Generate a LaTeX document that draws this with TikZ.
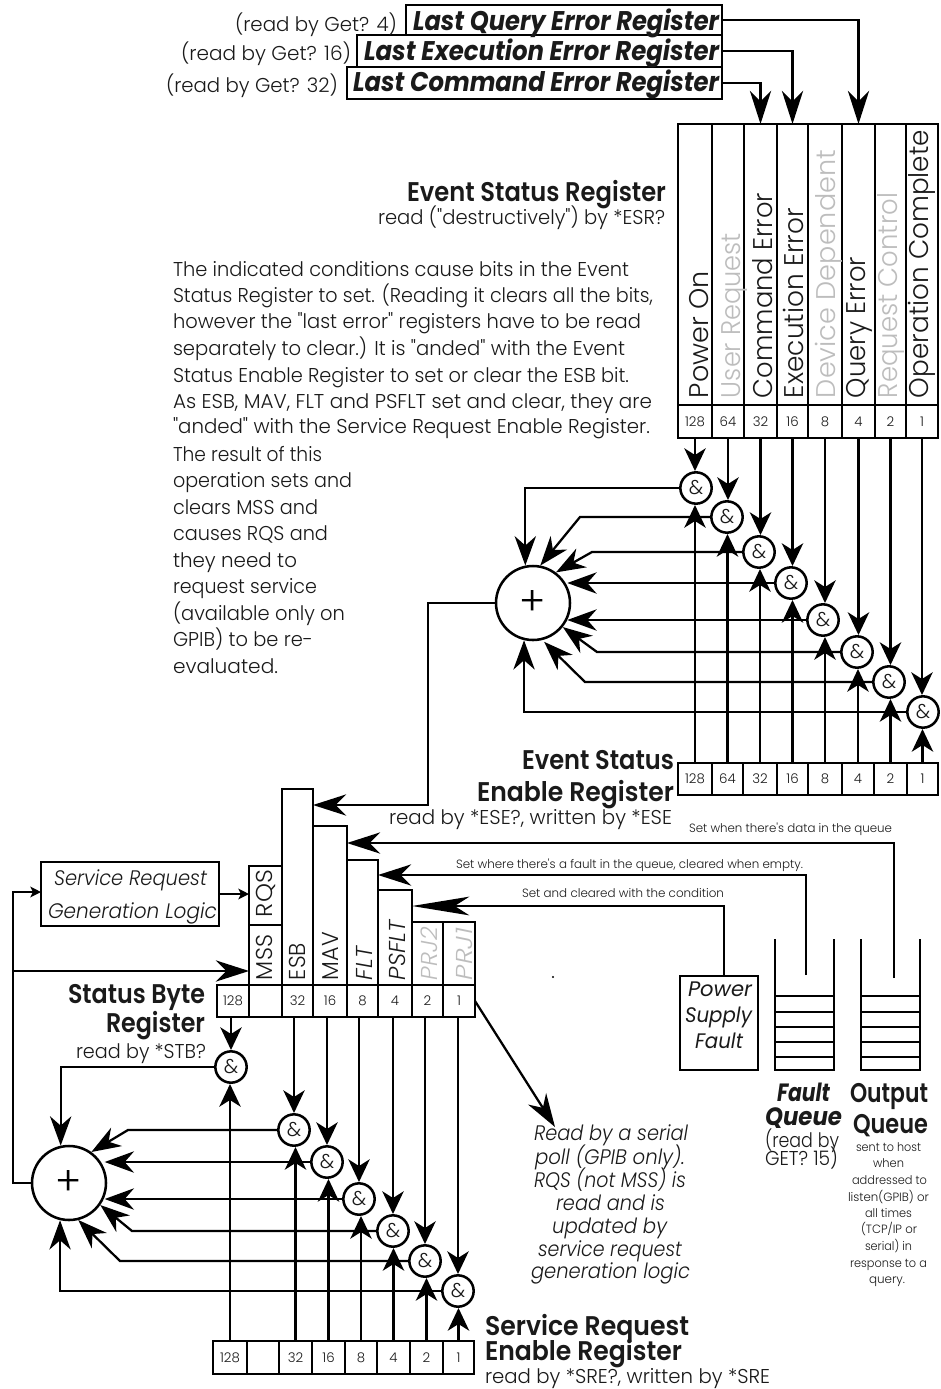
\documentclass[tikz,border=0pt]{standalone}
\usepackage{fontspec}
\usepackage{graphicx}
\setmainfont{Poppins}[Ligatures=TeXOff,UprightFont=*-Light,ItalicFont=*-LightItalic,BoldFont=*-SemiBold,BoldItalicFont=*-BoldItalic]
\newfontface\regit{Poppins-Italic}
\usetikzlibrary{arrows.meta,calc}
\definecolor{ink}{HTML}{1A1A1A}
\definecolor{dim}{HTML}{BDBDBD}
\newcounter{txc}
\newcommand\regcell[6]{\pgfmathsetmacro\cw{(#3-#2)*0.75}\pgfmathsetmacro\ch{(#5-#4)*0.75}%
  \node[cellbox,minimum width=\cw pt,minimum height=\ch pt] (#1) at ({(#2+#3)/2},{(#4+#5)/2}) {#6};}
% x, baseline, width, size(px), font switches+colour, text
\newcommand\tx[6]{\stepcounter{txc}\node[txtbox] (t\thetxc) at (#1,#2)
  {\fontsize{\dimexpr #4pt*3/4\relax}{\dimexpr #4pt*3/4\relax}\selectfont #5\resizebox{\dimexpr #3pt*3/4\relax}{\height}{#6}};}
\newcommand\rx[6]{\stepcounter{txc}\node[txtbox,rotate=90] (t\thetxc) at (#1,#2)
  {\fontsize{\dimexpr #4pt*3/4\relax}{\dimexpr #4pt*3/4\relax}\selectfont #5\resizebox{\dimexpr #3pt*3/4\relax}{\height}{#6}};}
\tikzset{
  cellbox/.style={draw=black,line width=1.7pt,inner sep=0pt,outer sep=0pt,fill=white,text=ink,font=\fontsize{10pt}{11pt}\selectfont},
  txtbox/.style={anchor=base west,inner sep=0pt,outer sep=0pt,text=ink},
  gate/.style={circle,draw=black,line width=1.9pt,fill=white,minimum size=23.5pt,inner sep=0pt,outer sep=0pt,text=ink,font=\fontsize{15pt}{15pt}\selectfont},
  summer/.style={circle,draw=black,line width=1.9pt,fill=white,minimum size=55.5pt,inner sep=0pt,outer sep=0pt,text=black,font=\fontsize{30pt}{30pt}\selectfont},
  wire/.style={draw=black,line width=1.7pt,line join=miter},
  arr/.style={wire,-{Stealth[length=17pt,width=16pt,inset=5pt]},shorten >=1pt},
  sumarr/.style={wire,-{Stealth[length=22pt,width=16pt,inset=7pt]},shorten >=1pt},
  feedarr/.style={wire,-{Stealth[length=25pt,width=16pt,inset=8pt]}},
  longarr/.style={wire,-{Stealth[length=43pt,width=14pt,inset=11pt]}},
  smallarr/.style={wire,-{Stealth[length=8pt,width=8pt,inset=2pt]}},
}
\begin{document}
\begin{tikzpicture}[x=0.75pt,y=-0.75pt]
\useasboundingbox (0,0) rectangle (940,1389);
\fill[white] (0,0) rectangle (940,1389);

% ---- last-error registers
\regcell{lq}{406}{722}{5}{35}{}
\regcell{le}{357}{722}{35}{67}{}
\regcell{lc}{347}{722}{67}{99}{}
\tx{413}{30}{306}{27}{\bfseries\itshape}{Last Query Error Register}
\tx{364}{60}{355}{27}{\bfseries\itshape}{Last Execution Error Register}
\tx{353}{91}{366}{27}{\bfseries\itshape}{Last Command Error Register}
\tx{235}{31}{162}{20}{}{(read by Get? 4)}
\tx{181}{60}{170}{20}{}{(read by Get? 16)}
\tx{166}{92}{172}{20}{}{(read by Get? 32)}

% ---- Event Status Register
\foreach \n/\a/\b in {128/678/712,64/712/744,32/744/777,16/777/808,8/808/842,4/842/875,2/875/906,1/906/938}{
  \regcell{ec\n}{\a}{\b}{124}{405}{}
  \regcell{e\n}{\a}{\b}{405}{438}{\n}
}
\rx{708}{398}{127}{27}{}{Power On}
\rx{740}{398}{165}{27}{\color{dim}}{User Request}
\rx{772}{398}{205}{27}{}{Command Error}
\rx{803}{398}{190}{27}{}{Execution Error}
\rx{835}{398}{248}{27}{\color{dim}}{Device Dependent}
\rx{865}{398}{141}{27}{}{Query Error}
\rx{897}{398}{205}{27}{\color{dim}}{Request Control}
\rx{928}{398}{268}{27}{}{Operation Complete}
\draw[feedarr] (lq.east) -| (ec4.north);
\draw[feedarr] (le.east) -| (ec16.north);
\draw[feedarr] (lc.east) -| (ec32.north);
\tx{407}{201}{259}{27}{\bfseries}{Event Status Register}
\tx{378}{224}{287}{20}{}{read ("destructively") by *ESR?}

% ---- paragraph
\tx{173}{276}{456}{20}{}{The indicated conditions cause bits in the Event}
\tx{173}{302}{480}{20}{}{Status Register to set. (Reading it clears all the bits,}
\tx{173}{328}{468}{20}{}{however the "last error" registers have to be read}
\tx{173}{355}{452}{20}{}{separately to clear.) It is "anded" with the Event}
\tx{173}{382}{456}{20}{}{Status Enable Register to set or clear the ESB bit.}
\tx{173}{408}{479}{20}{}{As ESB, MAV, FLT and PSFLT set and clear, they are}
\tx{173}{433}{477}{20}{}{"anded" with the Service Request Enable Register.}
\tx{173}{461}{149}{20}{}{The result of this}
\tx{173}{487}{179}{20}{}{operation sets and}
\tx{173}{514}{145}{20}{}{clears MSS and}
\tx{173}{540}{155}{20}{}{causes RQS and}
\tx{173}{567}{124}{20}{}{they need to}
\tx{173}{593}{144}{20}{}{request service}
\tx{173}{620}{172}{20}{}{(available only on}
\tx{173}{646}{140}{20}{}{GPIB) to be re-}
\tx{173}{673}{105}{20}{}{evaluated.}

% ---- upper gates
\node[gate] (a1) at (696,488) {\&};
\node[gate] (a2) at (727,517) {\&};
\node[gate] (a3) at (759,552) {\&};
\node[gate] (a4) at (791,583) {\&};
\node[gate] (a5) at (823,620) {\&};
\node[gate] (a6) at (857,652) {\&};
\node[gate] (a7) at (889,682) {\&};
\node[gate] (a8) at (923,712) {\&};
\node[summer] (sumA) at (533,603) {\raisebox{-3pt}{+}};

% Event Status Enable Register
\foreach \n/\a/\b in {128/678/712,64/712/743,32/743/777,16/777/808,8/808/842,4/842/874,2/874/907,1/907/938}{
  \regcell{f\n}{\a}{\b}{763}{795}{\n}
}
\foreach \n/\g in {128/a1,64/a2,32/a3,16/a4,8/a5,4/a6,2/a7,1/a8}{
  \draw[arr] (e\n.south) -- (e\n.south |- \g.north);
  \draw[arr] (f\n.north) -- (f\n.north |- \g.south);
}
\coordinate (ka2) at (580,517);
\coordinate (ka3) at (592,552);
\coordinate (ka6) at (597,652);
\coordinate (ka7) at (585,682);
\draw[sumarr] (a1.west) -| (sumA.102);
\draw[sumarr] (a2.west) -- (ka2) -- (sumA.80);
\draw[sumarr] (a3.west) -- (ka3) -- (sumA.54);
\draw[sumarr,shorten >=-2pt] (a4.west) -- (a4.west -| sumA.east);
\draw[sumarr,shorten >=-2pt] (a5.west) -- (a5.west -| sumA.east);
\draw[sumarr] (a6.west) -- (ka6) -- (sumA.-39);
\draw[sumarr,shorten >=3pt] (a7.west) -- (ka7) -- (sumA.-77);
\draw[sumarr] (a8.west) -| (sumA.-104);

\tx{522}{769}{152}{27}{\bfseries}{Event Status}
\tx{477}{801}{197}{27}{\bfseries}{Enable Register}
\tx{389}{824}{283}{20}{}{read by *ESE?, written by *ESE}
\tx{689}{832}{203}{12}{}{Set when there's data in the queue}
\tx{456}{868}{347}{12}{}{Set where there's a fault in the queue, cleared when empty.}
\tx{522}{897}{202}{12}{}{Set and cleared with the condition}

% ---- Status Byte Register
\regcell{cRQS}{249}{282}{866}{925}{}
\regcell{cMSS}{249}{282}{925}{985}{}
\regcell{cESB}{282}{313}{789}{985}{}
\regcell{cMAV}{313}{347}{826}{985}{}
\regcell{cFLT}{347}{378}{860}{985}{}
\regcell{cPS}{378}{412}{890}{985}{}
\regcell{cPJ2}{412}{443}{922}{985}{}
\regcell{cPJ1}{443}{475}{922}{985}{}
\foreach \n/\t/\a/\b in {128/128/217/249,64//249/282,32/32/282/313,16/16/313/347,8/8/347/378,4/4/378/412,2/2/412/443,1/1/443/475}{
  \regcell{s\n}{\a}{\b}{985}{1017}{\t}
}
\rx{272}{917}{47}{23}{}{RQS}
\rx{272}{980}{45}{23}{}{MSS}
\rx{305}{980}{37}{23}{}{ESB}
\rx{338}{980}{48}{23}{}{MAV}
\rx{372}{980}{33}{23}{\itshape}{FLT}
\rx{405}{980}{60}{23}{\itshape}{PSFLT}
\rx{437}{980}{53}{23}{\itshape\color{dim}}{PRJ2}
\rx{472}{980}{52}{23}{\itshape\color{dim}}{PRJ1}

\regcell{srg}{41}{219}{862}{926}{}
\tx{54}{885}{153}{21}{\itshape}{Service Request}
\tx{48}{918}{169}{21}{\itshape}{Generation Logic}
\tx{68}{1003}{137}{27}{\bfseries}{Status Byte}
\tx{106}{1032}{99}{27}{\bfseries}{Register}
\tx{76}{1058}{130}{20}{}{read by *STB?}

% feedback connectors into the status byte
\coordinate (kA) at (428,805);
\coordinate (oq) at (894,978);
\coordinate (oqk) at (894,843);
\coordinate (fq) at (806,975);
\coordinate (fqk) at (806,875);
\coordinate (pk) at (724,906);
\draw[feedarr] (sumA.west) -| (kA) -- (kA -| cESB.east);
\draw[feedarr] (oq) -- (oqk) -- (oqk -| cMAV.east);
\draw[feedarr] (fq) -- (fqk) -- (fqk -| cFLT.east);

% ---- power supply fault
\regcell{psf}{680}{758}{976}{1070}{}
\draw[longarr] (pk |- psf.north) -- (pk) -- (pk -| cPS.east);
\tx{688}{996}{64}{21}{\regit}{Power}
\tx{685}{1022}{67}{21}{\regit}{Supply}
\tx{695}{1048}{48}{21}{\regit}{Fault}
\fill[black] (553,977) circle (0.8pt);

% ---- queues
\draw[wire] (775,939) -- (775,1070) -- (834,1070) -- (834,939);
\draw[wire] (861,939) -- (861,1070) -- (920,1070) -- (920,939);
\foreach \y in {996,1012,1027,1042,1057}{
  \draw[wire] (775,\y) -- (834,\y);
  \draw[wire] (861,\y) -- (920,\y);
}
\tx{777}{1101}{53}{25}{\bfseries\itshape}{Fault}
\tx{765}{1125}{77}{25}{\bfseries\itshape}{Queue}
\tx{765}{1147}{74}{20}{}{(read by}
\tx{765}{1165}{73}{20}{}{GET? 15)}
\tx{850}{1102}{78}{27}{\bfseries}{Output}
\tx{853}{1133}{75}{27}{\bfseries}{Queue}
\tx{856}{1151}{65}{12}{}{sent to host}
\tx{873}{1167}{31}{12}{}{when}
\tx{852}{1184}{75}{12}{}{addressed to}
\tx{848}{1201}{81}{12}{}{listen(GPIB) or}
\tx{865}{1217}{47}{12}{}{all times}
\tx{861}{1233}{56}{12}{}{(TCP/IP or}
\tx{865}{1250}{47}{12}{}{serial) in}
\tx{850}{1267}{77}{12}{}{response to a}
\tx{869}{1283}{36}{12}{}{query.}

% ---- lower gates
\node[gate] (b128) at (231,1067) {\&};
\node[gate] (b32) at (294,1130) {\&};
\node[gate] (b16) at (327,1162) {\&};
\node[gate] (b8) at (359,1199) {\&};
\node[gate] (b4) at (393,1231) {\&};
\node[gate] (b2) at (425,1261) {\&};
\node[gate] (b1) at (458,1291) {\&};
\node[summer] (sumB) at (69,1183) {\raisebox{-2pt}{+}};

\foreach \n/\t/\a/\b in {128/128/213/247,64//247/279,32/32/279/312,16/16/312/345,8/8/345/377,4/4/377/410,2/2/410/443,1/1/443/474}{
  \regcell{r\n}{\a}{\b}{1341}{1374}{\t}
}
\foreach \n in {128,32,16,8,4,2,1}{
  \draw[arr] (b\n |- s\n.south) -- (b\n.north);
  \draw[arr] (r\n.north) -- (r\n.north |- b\n.south);
}
\coordinate (kb32) at (128,1130);
\coordinate (kb4) at (132,1231);
\coordinate (kb2) at (120,1261);
\draw[sumarr] (b128.west) -| (sumB.103);
\draw[sumarr] (b32.west) -- (kb32) -- (sumB.55);
\draw[sumarr,shorten >=-1pt] (b16.west) -- (b16.west -| sumB.east);
\draw[sumarr,shorten >=-1pt] (b8.west) -- (b8.west -| sumB.east);
\draw[sumarr] (b4.west) -- (kb4) -- (sumB.-35);
\draw[sumarr] (b2.west) -- (kb2) -- (sumB.-77);
\draw[sumarr] (b1.west) -| (sumB.-104);

\coordinate (tr) at (13,1183);
\coordinate (br1) at (13,971);
\coordinate (br2) at (13,892);
\draw[smallarr] (sumB.west) -- (tr) -- (br2) -- (br2 -| srg.west);
\draw[feedarr] (br1) -- (br1 -| cMSS.west);
\draw[smallarr] (srg.east) -- (srg.east -| cRQS.west);

\coordinate (readtip) at (555,1127);
\draw[feedarr] (s1.east) -- (readtip);
\tx{534}{1140}{154}{21}{\itshape}{Read by a serial}
\tx{535}{1164}{150}{21}{\itshape}{poll (GPIB only).}
\tx{534}{1187}{152}{21}{\itshape}{RQS (not MSS) is}
\tx{556}{1210}{109}{21}{\itshape}{read and is}
\tx{552}{1233}{115}{21}{\itshape}{updated by}
\tx{538}{1256}{144}{21}{\itshape}{service request}
\tx{531}{1278}{159}{21}{\itshape}{generation logic}

\tx{485}{1335}{204}{27}{\bfseries}{Service Request}
\tx{485}{1360}{197}{27}{\bfseries}{Enable Register}
\tx{485}{1383}{285}{20}{}{read by *SRE?, written by *SRE}
\end{tikzpicture}
\end{document}
